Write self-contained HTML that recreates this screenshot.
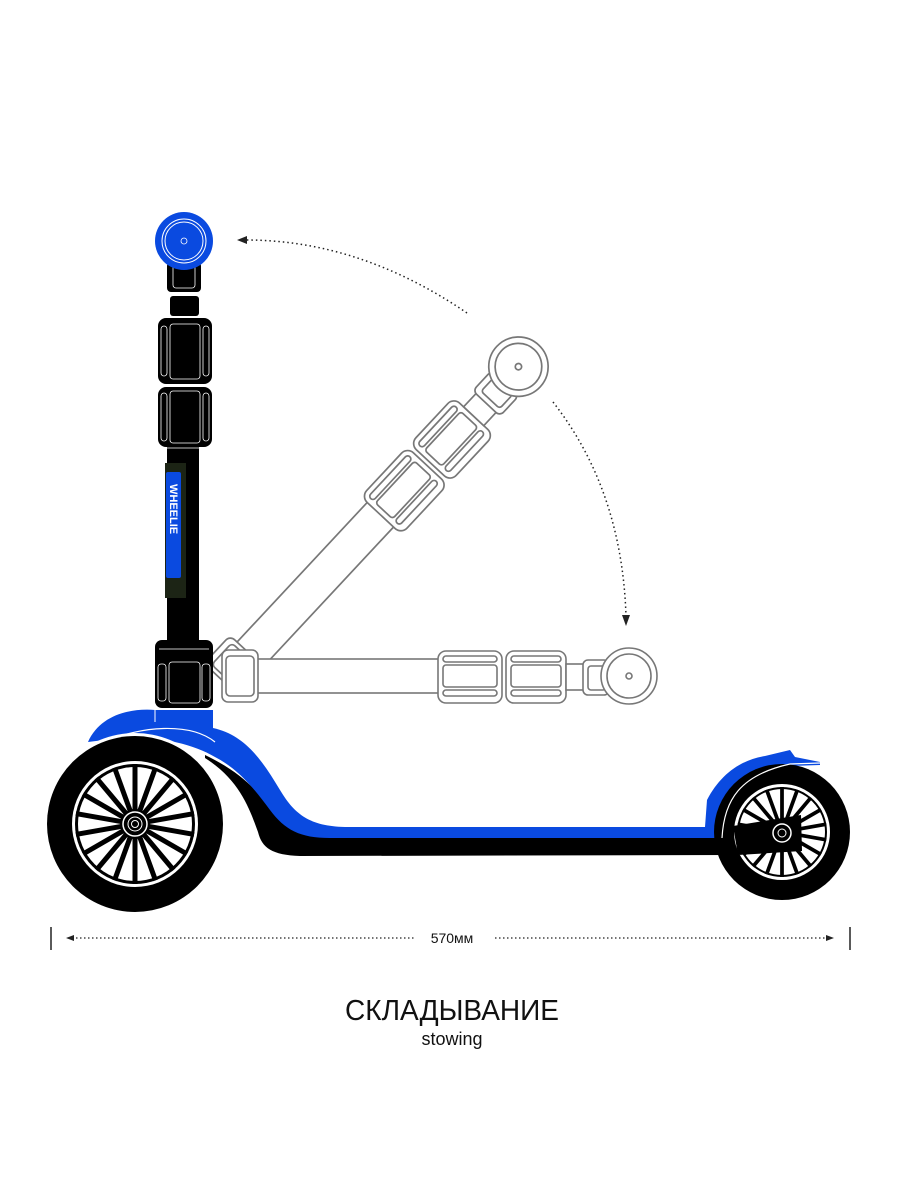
<!DOCTYPE html>
<html><head><meta charset="utf-8"><style>
html,body{margin:0;padding:0;background:#fff;}
svg{display:block;}
</style></head><body>
<svg width="900" height="1200" viewBox="0 0 900 1200" xmlns="http://www.w3.org/2000/svg">
<defs>
<g id="stem" fill="#fff" stroke="#777" stroke-width="1.6">
  <rect x="10" y="-17" width="200" height="34"/>
  <rect x="208" y="-25" width="64" height="52" rx="8"/>
  <rect x="213" y="-20" width="54" height="6" rx="3"/>
  <rect x="213" y="14" width="54" height="6" rx="3"/>
  <rect x="213" y="-11" width="54" height="22" rx="3"/>
  <rect x="276" y="-25" width="60" height="52" rx="8"/>
  <rect x="281" y="-20" width="50" height="6" rx="3"/>
  <rect x="281" y="14" width="50" height="6" rx="3"/>
  <rect x="281" y="-11" width="50" height="22" rx="3"/>
  <rect x="336" y="-12" width="18" height="26"/>
  <rect x="353" y="-16" width="26" height="35" rx="5"/>
  <rect x="358" y="-10" width="18" height="24" rx="3"/>
  <circle cx="399" cy="0" r="28"/>
  <circle cx="399" cy="0" r="22"/>
  <circle cx="399" cy="0" r="3"/>
  <rect x="-8" y="-26" width="36" height="52" rx="6"/>
  <rect x="-4" y="-20" width="28" height="40" rx="4"/>
</g>
<g id="sp">
  <line x1="0" y1="-14" x2="0" y2="-60" stroke="#000" stroke-width="5"/>
</g>
</defs>

<g transform="translate(230,676) rotate(-47) scale(1.06)"><use href="#stem"/></g>
<g transform="translate(230,676)"><use href="#stem"/></g>

<path d="M467,313 Q360,240 246,240" fill="none" stroke="#222" stroke-width="1.5" stroke-dasharray="1.5,3"/>
<polygon points="237,240 247,236 247,244" fill="#222"/>
<path d="M553,402 Q622,490 626,616" fill="none" stroke="#222" stroke-width="1.5" stroke-dasharray="1.5,3"/>
<polygon points="626,626 622,615 630,615" fill="#222"/>

<!-- vertical black stem -->
<rect x="167" y="440" width="32" height="215" fill="#000"/>
<rect x="165" y="463" width="21" height="135" fill="#1c2415"/>
<rect x="166" y="472" width="15" height="106" rx="2" fill="#0a4ae0"/>
<text x="0" y="0" transform="translate(170,484) rotate(90)" font-family="Liberation Sans, sans-serif" font-size="11" font-weight="bold" fill="#fff">WHEELIE</text>
<rect x="167" y="262" width="34" height="30" rx="4" fill="#000"/>
<rect x="173" y="264" width="22" height="24" rx="3" fill="none" stroke="#fff" stroke-width="0.8"/>
<rect x="170" y="296" width="29" height="20" rx="3" fill="#000"/>
<rect x="158" y="318" width="54" height="66" rx="8" fill="#000"/>
<rect x="158" y="387" width="54" height="60" rx="8" fill="#000"/>
<g fill="none" stroke="#fff" stroke-width="0.8">
<rect x="161" y="326" width="6" height="50" rx="3"/><rect x="203" y="326" width="6" height="50" rx="3"/><rect x="170" y="324" width="30" height="55" rx="3"/>
<rect x="161" y="393" width="6" height="48" rx="3"/><rect x="203" y="393" width="6" height="48" rx="3"/><rect x="170" y="391" width="30" height="52" rx="3"/>
</g>
<line x1="166" y1="448" x2="204" y2="448" stroke="#fff" stroke-width="0.8"/>
<circle cx="184" cy="241" r="29" fill="#0a4ae0"/>
<circle cx="184" cy="241" r="22" fill="none" stroke="#fff" stroke-width="1"/>
<circle cx="184" cy="241" r="19" fill="none" stroke="#fff" stroke-width="1"/>
<circle cx="184" cy="241" r="3" fill="none" stroke="#fff" stroke-width="0.8"/>
<rect x="155" y="640" width="58" height="68" rx="7" fill="#000"/>
<line x1="159" y1="649" x2="209" y2="649" stroke="#fff" stroke-width="0.8"/>
<g fill="none" stroke="#fff" stroke-width="0.8">
<rect x="158" y="664" width="8" height="37" rx="3"/><rect x="202" y="664" width="8" height="37" rx="3"/><rect x="169" y="662" width="31" height="41" rx="3"/>
</g>

<!-- deck black underside -->
<path d="M205,758 C240,780 250,810 258,832 C262,848 272,855 300,856 L735,855 L735,836 L330,836 C300,836 285,828 270,808 C255,788 240,772 205,755 Z" fill="#000"/>
<!-- blue body -->
<path d="M88,742 C100,715 130,708 155,710 L213,710 L213,728 C245,735 262,760 280,790 C295,815 310,826 345,827 L705,827 L707,800 C720,775 740,760 765,756 L790,750 L795,757 L820,762 L820,765 L790,766 C745,775 725,800 722,838 L330,838 C300,838 285,830 270,810 C255,790 240,770 215,757 C190,742 150,735 120,738 Z" fill="#0a4ae0"/>
<path d="M105,742 C140,726 190,722 215,742" fill="none" stroke="#fff" stroke-width="1.2"/>
<line x1="155" y1="710" x2="155" y2="722" stroke="#fff" stroke-width="1"/>

<!-- front wheel -->
<circle cx="135" cy="824" r="91" fill="#fff"/>
<circle cx="135" cy="824" r="88" fill="#000"/>
<circle cx="135" cy="824" r="63" fill="#fff"/>
<circle cx="135" cy="824" r="60" fill="#000"/>
<circle cx="135" cy="824" r="57" fill="#fff"/>
<g transform="translate(135,824)">
<use href="#sp" transform="rotate(0)"/><use href="#sp" transform="rotate(20)"/><use href="#sp" transform="rotate(40)"/>
<use href="#sp" transform="rotate(60)"/><use href="#sp" transform="rotate(80)"/><use href="#sp" transform="rotate(100)"/>
<use href="#sp" transform="rotate(120)"/><use href="#sp" transform="rotate(140)"/><use href="#sp" transform="rotate(160)"/>
<use href="#sp" transform="rotate(180)"/><use href="#sp" transform="rotate(200)"/><use href="#sp" transform="rotate(220)"/>
<use href="#sp" transform="rotate(240)"/><use href="#sp" transform="rotate(260)"/><use href="#sp" transform="rotate(280)"/>
<use href="#sp" transform="rotate(300)"/><use href="#sp" transform="rotate(320)"/><use href="#sp" transform="rotate(340)"/>
</g>
<circle cx="135" cy="824" r="15" fill="#000"/>
<circle cx="135" cy="824" r="12" fill="none" stroke="#fff" stroke-width="1.5"/>
<circle cx="135" cy="824" r="7" fill="none" stroke="#fff" stroke-width="1"/>
<circle cx="135" cy="824" r="3.5" fill="none" stroke="#fff" stroke-width="1"/>

<!-- rear wheel -->
<circle cx="782" cy="832" r="68" fill="#000"/>
<circle cx="782" cy="832" r="48" fill="#fff"/>
<circle cx="782" cy="832" r="45" fill="#000"/>
<circle cx="782" cy="832" r="43" fill="#fff"/>
<g transform="translate(782,832) scale(0.75)">
<use href="#sp" transform="rotate(0)"/><use href="#sp" transform="rotate(20)"/><use href="#sp" transform="rotate(40)"/>
<use href="#sp" transform="rotate(60)"/><use href="#sp" transform="rotate(80)"/><use href="#sp" transform="rotate(100)"/>
<use href="#sp" transform="rotate(120)"/><use href="#sp" transform="rotate(140)"/><use href="#sp" transform="rotate(160)"/>
<use href="#sp" transform="rotate(180)"/><use href="#sp" transform="rotate(200)"/><use href="#sp" transform="rotate(220)"/>
<use href="#sp" transform="rotate(240)"/><use href="#sp" transform="rotate(260)"/><use href="#sp" transform="rotate(280)"/>
<use href="#sp" transform="rotate(300)"/><use href="#sp" transform="rotate(320)"/><use href="#sp" transform="rotate(340)"/>
</g>
<polygon points="733,826 801,815 802,851 738,855" fill="#000"/>
<circle cx="782" cy="833" r="9" fill="#000" stroke="#fff" stroke-width="1.5"/>
<circle cx="782" cy="833" r="4" fill="none" stroke="#fff" stroke-width="1"/>
<path d="M722,838 C724,800 740,775 790,764 L820,763" fill="none" stroke="#fff" stroke-width="1.2"/>

<!-- dimension -->
<line x1="51" y1="927" x2="51" y2="950" stroke="#222" stroke-width="1.5"/>
<line x1="850" y1="927" x2="850" y2="950" stroke="#222" stroke-width="1.5"/>
<line x1="72" y1="938" x2="415" y2="938" stroke="#222" stroke-width="1.2" stroke-dasharray="1.5,2.5"/>
<line x1="495" y1="938" x2="826" y2="938" stroke="#222" stroke-width="1.2" stroke-dasharray="1.5,2.5"/>
<polygon points="66,938 74,935 74,941" fill="#222"/>
<polygon points="834,938 826,935 826,941" fill="#222"/>
<text x="452" y="943" text-anchor="middle" font-family="Liberation Sans, sans-serif" font-size="14" fill="#111">570мм</text>

<text x="452" y="1020" text-anchor="middle" font-family="Liberation Sans, sans-serif" font-size="29" fill="#111" textLength="214" lengthAdjust="spacingAndGlyphs">СКЛАДЫВАНИЕ</text>
<text x="452" y="1045" text-anchor="middle" font-family="Liberation Sans, sans-serif" font-size="18" fill="#111">stowing</text>
</svg>
</body></html>
